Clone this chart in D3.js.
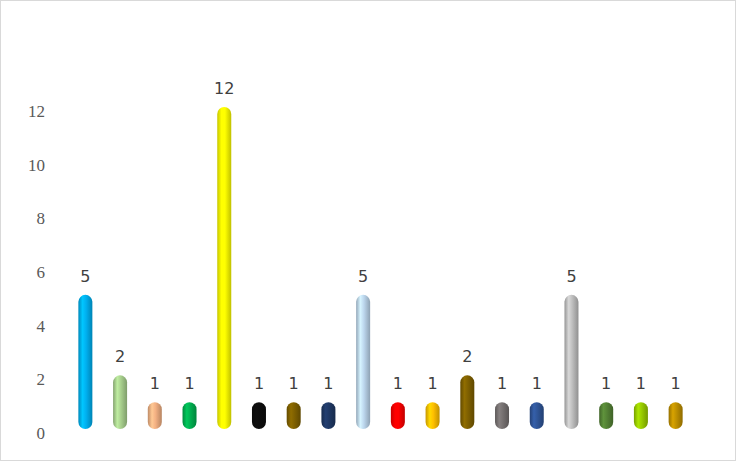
<!DOCTYPE html>
<html><head><meta charset="utf-8">
<script src="https://cdn.jsdelivr.net/npm/d3@7"></script>
<style>
html,body{margin:0;padding:0;background:#fff;}
svg{display:block;}
</style></head>
<body>
<svg id="chart" width="736" height="461"></svg>
<script>
const categories = ["A","B","C","D","E","F","G","H","I","J","K","L","M","N","O","P","Q","R"];
const values = [5,2,1,1,12,1,1,1,5,1,1,2,1,1,5,1,1,1];
const colors = ["#00B0F0","#A9D18E","#F4B183","#00B050","#FFFF00","#0D0D0D","#7F6000","#1F3864","#BDD7EE","#FF0000","#FFC000","#7F6000","#767171","#2F5597","#BFBFBF","#548235","#99CC00","#BF9000"];
const yTicks = [0,2,4,6,8,10,12];

const W = 736, H = 461;
const svg = d3.select("#chart");
svg.append("rect").attr("x",0.5).attr("y",0.5).attr("width",W-1).attr("height",H-1)
  .attr("fill","#fff").attr("stroke","#D9D9D9");

const x = d3.scaleBand().domain(categories).range([68, 693]).paddingInner(0.6).paddingOuter(0.3);
const y = d3.scaleLinear().domain([0,12]).range([429,107]);

const defs = svg.append("defs");
colors.forEach((c,i)=>{
  const base = d3.color(c);
  const g = defs.append("linearGradient").attr("id","g"+i).attr("x1","0").attr("x2","1").attr("y1","0").attr("y2","0");
  g.append("stop").attr("offset","0%").attr("stop-color", base.darker(0.7));
  g.append("stop").attr("offset","30%").attr("stop-color", base.brighter(0.35));
  g.append("stop").attr("offset","55%").attr("stop-color", base);
  g.append("stop").attr("offset","100%").attr("stop-color", base.darker(0.8));
});

const yAxis = d3.axisLeft(y).tickValues(yTicks).tickSize(0).tickPadding(0);
const ya = svg.append("g").attr("transform","translate(45,4)").call(yAxis);
ya.select(".domain").remove();
ya.selectAll("text").attr("font-family","Liberation Serif, serif").attr("font-size",17).attr("fill","#595959");

const bw = 14;
svg.append("g").selectAll("rect").data(values).join("rect")
  .attr("x",(d,i)=>x(categories[i]) + x.bandwidth()/2 - bw/2)
  .attr("y",d=>y(d))
  .attr("width",bw)
  .attr("height",d=>y(0)-y(d))
  .attr("rx",bw/2).attr("ry",bw/2)
  .attr("fill",(d,i)=>`url(#g${i})`);

svg.append("g").selectAll("text").data(values).join("text")
  .attr("x",(d,i)=>x(categories[i]) + x.bandwidth()/2)
  .attr("y",d=>y(d)-13)
  .attr("text-anchor","middle")
  .attr("font-family","DejaVu Sans, sans-serif")
  .attr("font-size",16)
  .attr("fill","#404040")
  .text(d=>d);
</script>
</body></html>
